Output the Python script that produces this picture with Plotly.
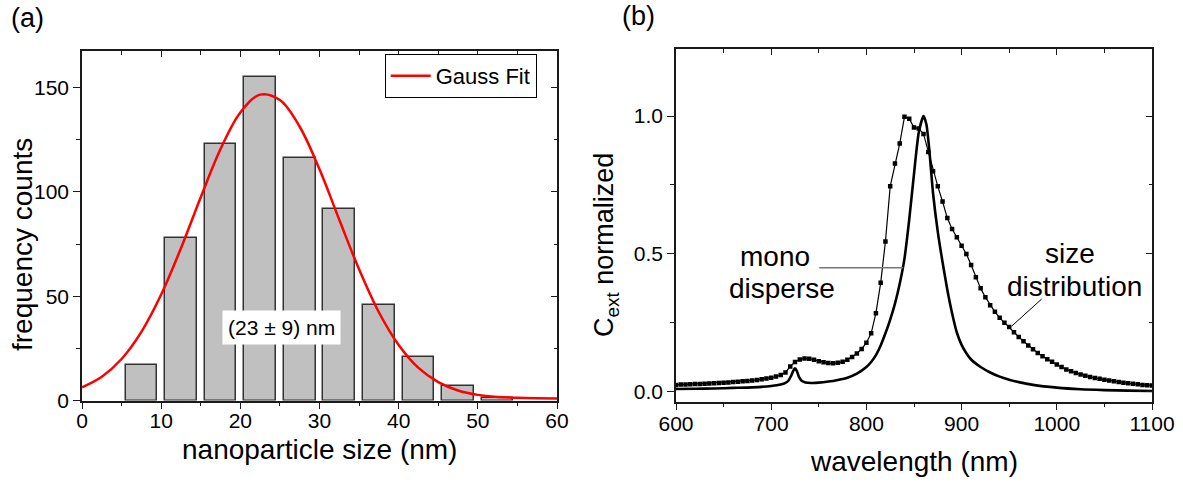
import plotly.graph_objects as go

# ---------------- panel (a) data ----------------
size_bins = [7.5, 12.5, 17.5, 22.5, 27.5, 32.5, 37.5, 42.5, 47.5, 52.5]
counts = [17, 78, 123, 155, 116, 92, 46, 21, 7, 1]

fit_x = [0, 2.5, 5, 7.5, 10, 12.5, 15, 17.5, 20, 22.5, 25, 27.5, 30,
         32.5, 35, 37.5, 40, 42.5, 45, 47.5, 50, 52.5, 55, 57.5, 60]
fit_y = [6.3, 11.4, 19.9, 32.9, 50.8, 73.0, 97.4, 120.5, 138.0, 146.6, 144.0,
         131.2, 110.8, 86.6, 62.9, 42.3, 26.6, 15.6, 8.8, 4.8, 2.7, 1.7, 1.3,
         1.1, 1.0]

# ---------------- panel (b) data ----------------
wl_size = list(range(600, 1105, 5))
c_size = [
    0.025, 0.026, 0.026, 0.027, 0.028, 0.028, 0.029, 0.030, 0.031, 0.032,   # 600-645
    0.033, 0.034, 0.035, 0.036, 0.038, 0.039, 0.041, 0.043, 0.045, 0.048,   # 650-695
    0.051, 0.055, 0.061, 0.070, 0.092, 0.108, 0.117, 0.121, 0.120, 0.116,   # 700-745
    0.111, 0.107, 0.104, 0.103, 0.105, 0.109, 0.116, 0.126, 0.139, 0.155,   # 750-795
    0.178, 0.212, 0.285, 0.395, 0.545, 0.745, 0.828, 0.900, 0.997, 0.990,   # 800-845
    0.958, 0.955, 0.935, 0.870, 0.800, 0.745, 0.690, 0.630, 0.590, 0.560,   # 850-895
    0.530, 0.500, 0.460, 0.415, 0.375, 0.343, 0.314, 0.290, 0.268, 0.250,   # 900-945
    0.235, 0.216, 0.199, 0.183, 0.168, 0.154, 0.141, 0.129, 0.118, 0.109,   # 950-995
    0.099, 0.090, 0.081, 0.074, 0.068, 0.063, 0.058, 0.054, 0.050, 0.047,   # 1000-1045
    0.044, 0.041, 0.038, 0.035, 0.033, 0.031, 0.029, 0.027, 0.025, 0.024,   # 1050-1095
    0.023]                                                                  # 1100

wl_mono = [600, 620, 640, 660, 680, 700, 710, 715, 718, 721, 723, 725, 727,
           729, 732, 736, 742, 750, 760, 770, 780, 790, 800, 805, 810, 815,
           820, 825, 830, 835, 840, 845, 850, 855, 860, 863, 866, 870, 875,
           880, 885, 890, 895, 900, 905, 910, 920, 930, 940, 950, 960, 975,
           1000, 1025, 1050, 1075, 1100]
c_mono = [0.010, 0.011, 0.012, 0.014, 0.016, 0.021, 0.026, 0.032, 0.040,
          0.058, 0.075, 0.085, 0.075, 0.055, 0.040, 0.034, 0.032, 0.033,
          0.037, 0.043, 0.051, 0.066, 0.090, 0.108, 0.133, 0.168, 0.212,
          0.262, 0.320, 0.392, 0.483, 0.625, 0.790, 0.940, 1.000, 0.970,
          0.880, 0.720, 0.580, 0.470, 0.370, 0.285, 0.215, 0.170, 0.140,
          0.117, 0.090, 0.070, 0.055, 0.044, 0.035, 0.025, 0.015, 0.009,
          0.006, 0.004, 0.003]

FONT = "Liberation Sans, Arial, sans-serif"
AX = "#1a1a1a"
W, H = 1183, 485

fig = go.Figure()

# panel (a)
fig.add_trace(go.Bar(x=size_bins, y=counts, width=4,
                     marker=dict(color="#c0c0c0", line=dict(color="#333333", width=1.5)),
                     showlegend=False, xaxis="x", yaxis="y"))
fig.add_trace(go.Scatter(x=fit_x, y=fit_y, mode="lines", name="Gauss Fit",
                         line=dict(color="#ff0000", width=2.5, shape="spline"),
                         xaxis="x", yaxis="y"))
# panel (b)
fig.add_trace(go.Scatter(x=wl_size, y=c_size, mode="lines+markers", name="size distribution",
                         line=dict(color="black", width=1.2),
                         marker=dict(symbol="square", size=4.5, color="black"),
                         showlegend=False, xaxis="x2", yaxis="y2"))
fig.add_trace(go.Scatter(x=wl_mono, y=c_mono, mode="lines", name="mono disperse",
                         line=dict(color="black", width=2.6, shape="spline", smoothing=0.6),
                         showlegend=False, xaxis="x2", yaxis="y2"))

# empty traces so the mirrored (top/right) tick axes get drawn
for xa, ya in (("x3", "y3"), ("x4", "y4")):
    fig.add_trace(go.Scatter(x=[None], y=[None], xaxis=xa, yaxis=ya,
                             showlegend=False, hoverinfo="skip"))

def main_axis(**kw):
    d = dict(showline=True, linecolor=AX, linewidth=1.5, mirror=True,
             ticks="outside", ticklen=7, tickwidth=1.3, tickcolor=AX,
             showgrid=False, zeroline=False, automargin=False,
             tickfont=dict(family=FONT, size=21, color="black"))
    d.update(kw)
    return d

def mirror_axis(**kw):
    d = dict(showline=False, ticks="inside", ticklen=6, tickwidth=1.3, tickcolor=AX,
             showgrid=False, zeroline=False, showticklabels=False, automargin=False)
    d.update(kw)
    return d

xdom1 = [82 / W, 557 / W]
ydom1 = [1 - 400.5 / H, 1 - 51 / H]
xdom2 = [676 / W, 1152 / W]
ydom2 = [1 - 401.7 / H, 1 - 49.3 / H]

TITLE = dict(family=FONT, size=28, color="black")

fig.update_layout(
    width=W, height=H,
    margin=dict(l=0, r=0, t=0, b=0, autoexpand=False),
    paper_bgcolor="white", plot_bgcolor="white",
    bargap=0,
    xaxis=main_axis(domain=xdom1, anchor="y", range=[0, 60], tick0=0, dtick=10,
                    ticklabelstandoff=-6,
                    minor=dict(dtick=5, ticks="outside", ticklen=4, tickcolor=AX)),
    yaxis=main_axis(domain=ydom1, anchor="x", range=[0, 167.5], tick0=0, dtick=50,
                    minor=dict(dtick=25, ticks="outside", ticklen=4, tickcolor=AX)),
    xaxis3=mirror_axis(overlaying="x", side="top", anchor="y3", range=[0, 60], tick0=0, dtick=10,
                       minor=dict(dtick=5, ticks="inside", ticklen=3.5, tickcolor=AX)),
    yaxis3=mirror_axis(overlaying="y", side="right", anchor="x3", range=[0, 167.5], tick0=0, dtick=50,
                       minor=dict(dtick=25, ticks="inside", ticklen=3.5, tickcolor=AX)),
    xaxis2=main_axis(domain=xdom2, anchor="y2", range=[600, 1100], tick0=600, dtick=100,
                     ticklabelstandoff=-5,
                     minor=dict(dtick=50, ticks="outside", ticklen=4, tickcolor=AX)),
    yaxis2=main_axis(domain=ydom2, anchor="x2", range=[-0.036, 1.242], tick0=0, dtick=0.5,
                     tickformat=".1f",
                     minor=dict(dtick=0.25, ticks="outside", ticklen=4, tickcolor=AX)),
    xaxis4=mirror_axis(overlaying="x2", side="top", anchor="y4", range=[600, 1100], tick0=600, dtick=100,
                       minor=dict(dtick=50, ticks="inside", ticklen=3.5, tickcolor=AX)),
    yaxis4=mirror_axis(overlaying="y2", side="right", anchor="x4", range=[-0.036, 1.242], tick0=0, dtick=0.5,
                       minor=dict(dtick=0.25, ticks="inside", ticklen=3.5, tickcolor=AX)),
    legend=dict(x=536.7 / W, xanchor="right", y=1 - 54 / H, yanchor="top",
                bgcolor="white", bordercolor="black", borderwidth=1,
                font=dict(family=FONT, size=22, color="black"),
                tracegroupgap=0, itemwidth=40),
    showlegend=True,
)

annotations = [
    # panel labels
    dict(text="(a)", x=27 / W, y=1 - 18 / H, xref="paper", yref="paper",
         xanchor="center", yanchor="middle",
         showarrow=False, font=dict(family=FONT, size=27, color="black")),
    dict(text="(b)", x=638 / W, y=1 - 16 / H, xref="paper", yref="paper",
         xanchor="center", yanchor="middle",
         showarrow=False, font=dict(family=FONT, size=27, color="black")),
    # axis titles
    dict(text="nanoparticle size (nm)", x=319.5 / W, y=1 - 449 / H, xref="paper", yref="paper",
         xanchor="center", yanchor="middle", showarrow=False, font=TITLE),
    dict(text="frequency counts", x=22 / W, y=1 - 245 / H, xref="paper", yref="paper",
         xanchor="center", yanchor="middle", textangle=-90, showarrow=False, font=TITLE),
    dict(text="wavelength (nm)", x=914 / W, y=1 - 461 / H, xref="paper", yref="paper",
         xanchor="center", yanchor="middle", showarrow=False, font=TITLE),
    dict(text="C<sub>ext</sub> normalized", x=606 / W, y=1 - 245 / H, xref="paper", yref="paper",
         xanchor="center", yanchor="middle", textangle=-90, showarrow=False,
         font=dict(family=FONT, size=27, color="black")),
    # in-plot labels
    dict(text="(23 ± 9) nm", x=25.2, y=34.8, xref="x", yref="y", showarrow=False,
         xanchor="center", yanchor="middle",
         bgcolor="white", borderpad=5, font=dict(family=FONT, size=21, color="black")),
    dict(text="mono", x=704, y=0.49, xref="x2", yref="y2", showarrow=False,
         xanchor="center", yanchor="middle",
         font=dict(family=FONT, size=28, color="black")),
    dict(text="disperse", x=711, y=0.375, xref="x2", yref="y2", showarrow=False,
         xanchor="center", yanchor="middle",
         font=dict(family=FONT, size=28, color="black")),
    dict(text="size", x=1014, y=0.50, xref="x2", yref="y2", showarrow=False,
         xanchor="center", yanchor="middle",
         font=dict(family=FONT, size=28, color="black")),
    dict(text="distribution", x=1019, y=0.38, xref="x2", yref="y2", showarrow=False,
         xanchor="center", yanchor="middle",
         font=dict(family=FONT, size=28, color="black")),
]
fig.update_layout(annotations=annotations)

fig.add_shape(type="line", x0=750.5, y0=0.45, x1=838.7, y1=0.45, xref="x2", yref="y2",
              line=dict(color="#777777", width=1.5))
fig.add_shape(type="line", x0=984, y0=0.336, x1=952.6, y1=0.238, xref="x2", yref="y2",
              line=dict(color="black", width=1))

fig.write_html("out.html")
